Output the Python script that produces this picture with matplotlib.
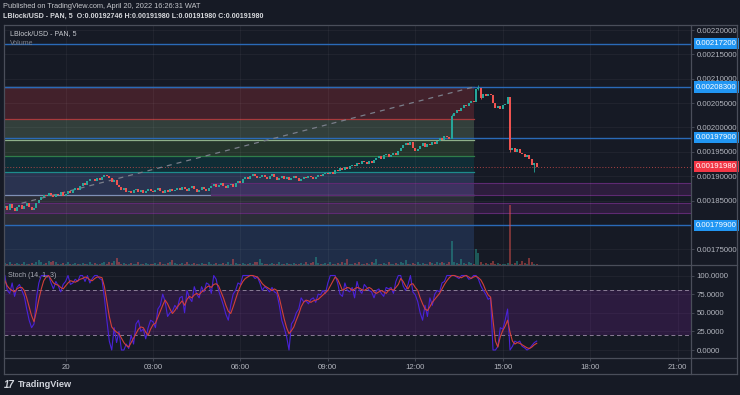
import numpy as np
import matplotlib
matplotlib.use('Agg')
import matplotlib.pyplot as plt
import matplotlib.transforms as mtransforms
from matplotlib.patches import Rectangle
from matplotlib.lines import Line2D

plt.rcParams['font.family'] = ['Liberation Sans', 'DejaVu Sans']

# 5 minute candles, prices in units of 1e-6 USD (1838 -> 0.001838)
first_open_e6 = 1834
closes_e6 = [
    1838, 1830, 1842, 1835, 1828, 1836, 1840, 1832, 1838, 1844, 1836, 1830, 1834,
    1845, 1852, 1858, 1862,
    1860, 1866, 1862, 1858, 1864, 1862, 1868, 1860, 1864, 1870, 1866, 1872,
    1876, 1872, 1880, 1886, 1882, 1890, 1894,
    1894, 1890, 1896, 1892, 1898, 1902,
    1900, 1896, 1888, 1892, 1882, 1878, 1872, 1876, 1868,
    1870, 1866, 1872, 1874, 1868, 1872, 1866, 1870, 1874, 1870,
    1868, 1872, 1876, 1870, 1866, 1872, 1868, 1874, 1870, 1872,
    1876, 1872, 1878, 1874, 1870, 1876, 1880, 1874, 1868, 1872, 1878, 1874, 1870, 1876,
    1880, 1884, 1878, 1882, 1886, 1880, 1876, 1882, 1884, 1878, 1886,
    1890, 1886, 1894, 1898, 1894, 1900, 1904,
    1900, 1896, 1898, 1902, 1898, 1894, 1900, 1904, 1898, 1892, 1896, 1900, 1894,
    1898, 1892, 1896, 1900, 1896, 1890, 1894, 1898, 1896,
    1900, 1898, 1894, 1898, 1902, 1900, 1904, 1906, 1904,
    1908, 1904, 1912, 1910, 1916, 1912, 1918, 1914, 1920,
    1924, 1920, 1928, 1926, 1932,
    1930, 1926, 1932, 1928, 1934, 1938,
    1942, 1936, 1944, 1946, 1940, 1944,
    1948, 1944, 1952, 1958, 1964, 1968,
    1964, 1970, 1958, 1952, 1956,
    1962, 1968, 1960, 1966, 1964, 1970, 1966, 1972,
    1978, 1974, 1982, 1980, 1976,
    2024,
    2030, 2036, 2034, 2040, 2046, 2044, 2050, 2054,
    2052, 2078, 2082,
    2060,
    2068, 2064, 2068, 2066,
    2050, 2040,
    2044, 2038, 2046,
    2048, 2062,
    1954,
    1958, 1950, 1956, 1948,
    1946, 1940, 1944, 1936,
    1922, 1927.46, 1919.8,
]
# a few visible wicks: candle index -> (high, low)
wicks_e6 = {184: (2027, 1978), 195: (2087, 2076), 196: (2082, 2058), 208: (2062, 1950), 218: (1928, 1908)}

volumes = [
    4, 3, 5, 2, 3, 4, 2, 3, 5, 3,
    2, 4, 3, 5, 9, 6, 3, 4, 7, 5,
    8, 6, 3, 2, 4, 3, 5, 2, 3, 4,
    3, 2, 4, 3, 2, 5, 3, 4, 2, 3,
    4, 5, 3, 6, 4, 7, 13, 5, 3, 4,
    2, 3, 4, 2, 3, 5, 2, 3, 4, 2,
    3, 2, 4, 3, 5, 2, 3, 4, 6, 9,
    4, 3, 2, 4, 3, 5, 2, 3, 4, 2,
    3, 4, 2, 3, 5, 3, 2, 4, 3, 2,
    4, 3, 5, 2, 10, 4, 3, 2, 4, 3,
    2, 4, 3, 5, 6, 10, 4, 3, 2, 3,
    4, 2, 3, 5, 3, 2, 4, 3, 2, 4,
    3, 2, 4, 3, 5, 3, 4, 6, 14, 4,
    3, 2, 4, 3, 5, 3, 2, 4, 3, 5,
    4, 10, 3, 2, 4, 3, 5, 3, 2, 4,
    3, 5, 4, 10, 3, 2, 4, 3, 5, 3,
    2, 4, 3, 5, 4, 9, 3, 2, 4, 3,
    5, 3, 4, 2, 3, 5, 4, 3, 6, 4,
    5, 4, 3, 6, 40, 5, 4, 3, 10, 4,
    3, 5, 4, 3, 27, 20, 6, 3, 4, 3,
    4, 8, 3, 4, 3, 2, 3, 4, 100, 3,
    4, 8, 3, 7, 4, 3, 12, 6, 3, 2,
]

stoch_k = [
    100, 80, 76, 90, 72, 84, 88, 80, 72, 55, 40, 30, 35,
    70, 90, 100, 100,
    100, 100, 90, 82, 92, 86, 78, 88, 92,
    100, 88, 90, 95, 92, 100,
    100, 92, 100, 90, 96, 100, 100, 96, 94,
    70, 40, 12, 0, 30, 10, 25, 0, 0, 8, 2,
    20, 8, 35, 40, 25, 28, 15, 30, 40, 38, 30,
    55, 60, 75, 65, 45, 50, 52,
    60, 55, 70, 72, 50, 80, 70, 65, 85, 75, 70,
    85, 78, 90, 88, 76, 100, 95, 80,
    70, 60, 48, 40, 60, 75, 80, 90, 88, 100, 100, 100,
    100, 100, 96, 98, 90, 80, 85, 82, 78, 84, 78, 76,
    60, 40, 30, 18, 0, 35, 40, 50, 55, 70, 65, 66,
    62, 68, 70, 64, 75, 74, 80, 76, 90, 100, 100,
    100, 90, 75, 72,
    90, 80, 78, 84, 70, 92, 80, 76, 88, 84, 80,
    78, 70, 80, 82, 76, 72, 84, 82,
    84, 76, 92, 100, 100, 86,
    80, 88, 100, 78, 74, 65, 50,
    40, 60, 45, 70, 60, 75, 80, 78, 90,
    92, 100, 100, 100, 100, 98,
    96, 100, 100, 100, 95, 96, 100, 100, 95, 86,
    80, 75, 68, 70, 0, 0, 5,
    30, 28, 40, 55, 0, 5, 12,
    10, 12, 5, 3, 0, 2, 6, 10, 12,
]
stoch_d = [
    93, 86, 82, 80, 78, 82, 84, 84, 80, 70, 58, 46, 38,
    52, 68, 82, 93,
    98, 100, 95, 90, 88, 87, 84, 82, 86,
    90, 93, 92, 91, 93, 95,
    96, 98, 97, 94, 93, 96, 98, 98, 97,
    85, 65, 45, 31, 27, 24, 22, 16, 10, 6, 4,
    10, 16, 22, 28, 31, 30, 24, 20, 28, 34, 36,
    44, 52, 60, 67, 62, 55, 49,
    53, 58, 62, 66, 60, 68, 72, 70, 74, 76, 74,
    78, 80, 84, 86, 84, 88, 89, 86,
    78, 70, 60, 52, 49, 58, 68, 78, 86, 92, 96, 98,
    100, 100, 99, 98, 94, 89, 86, 84, 82, 80, 82, 80,
    70, 56, 42, 30, 22, 26, 31, 40, 48, 58, 64, 67,
    66, 64, 66, 67, 68, 71, 74, 77, 80, 86, 92,
    98, 95, 88, 80,
    82, 84, 83, 80, 82, 84, 83, 81, 80, 82, 84,
    82, 78, 76, 78, 80, 78, 76, 80,
    82, 80, 84, 88, 96, 92,
    86, 82, 88, 89, 84, 80, 70,
    62, 55, 53, 58, 64, 68, 72, 76, 82,
    88, 93, 97, 100, 100, 99,
    98, 97, 99, 100, 98, 96, 98, 99, 97, 94,
    88, 80, 74, 71, 40, 12, 4,
    18, 26, 32, 40, 24, 12, 8,
    10, 9, 7, 5, 3, 2, 4, 7, 9,
]

price_ticks = [0.00175, 0.00185, 0.0019, 0.00195, 0.0020, 0.00205, 0.0021, 0.00215, 0.0022]
marked_levels = [0.002172, 0.002083, 0.001979, 0.001799]
last_price = 0.0019198
time_ticks = [0, 3, 6, 9, 12, 15, 18, 21]
time_labels = ['20', '03:00', '06:00', '09:00', '12:00', '15:00', '18:00', '21:00']
stoch_ticks = [0, 25, 50, 75, 100]

# zones drawn on the chart (price e6): low, high, fill colour
zone_lows = [1700, 1799, 1861, 1908, 1941, 1977, 2017]
zone_highs = [1799, 1861, 1908, 1941, 1977, 2017, 2083]
zone_fills = ['#1f2d48', '#2b2d37', '#2a3350', '#102d36', '#25352c', '#323f3b', '#42212b']
zone_end_hour = 14.0
purple_bands = [(1824, 1845, -5.0), (1861, 1886, 5.0)]  # low, high, start hour
trend_start = (-1.51, 1844.5)
trend_end = (14.0, 2083)

# ---------- derived series ----------
n = len(closes_e6)
last_hour = 16 + 10 / 60
hours = last_hour - (n - 1 - np.arange(n)) / 12.0
closes = np.array(closes_e6, dtype=float) * 1e-6
opens = np.concatenate([[first_open_e6 * 1e-6], closes[:-1]])
up = closes >= opens

BG = '#161a25'
GREEN = '#26a69a'
RED = '#ef5350'
TXT = '#b2b5be'
LINE_BLUE = '#2a6ab8'
FRAME = '#4a4e5a'

fig = plt.figure(figsize=(7.4, 3.95), dpi=100)
fig.patch.set_facecolor(BG)

def fbox(x0, y0, x1, y1):
    return [x0 / 740, 1 - y1 / 395, (x1 - x0) / 740, (y1 - y0) / 395]

ax = fig.add_axes(fbox(3.5, 24.5, 691, 265.3))
axs = fig.add_axes(fbox(3.5, 265.3, 691, 357.7), sharex=ax)
for a in (ax, axs):
    a.set_facecolor(BG)
    for s in a.spines.values():
        s.set_visible(False)

xmin, xmax = -2.13, 21.46
ax.set_xlim(xmin, xmax)
ax.set_ylim(0.00171716, 0.0022113)

# zones
for lo, hi, fc in zip(zone_lows, zone_highs, zone_fills):
    ax.add_patch(Rectangle((xmin, lo * 1e-6), zone_end_hour - xmin, (hi - lo) * 1e-6,
                           fc=fc, ec='none', zorder=1))
zone_edges = [(1861, '#7f8fb5'), (1908, '#1d8c8c'), (1941, '#2f7d4a'), (1975, '#8fb08a'),
              (2017, '#a83a3c'), (2083, '#8a8fa0')]
for lvl, col in zone_edges:
    ax.plot([xmin, zone_end_hour], [lvl * 1e-6] * 2, color=col, lw=0.9, zorder=2)

for lo, hi, start in purple_bands:
    ax.add_patch(Rectangle((max(start, xmin), lo * 1e-6), xmax - max(start, xmin), (hi - lo) * 1e-6,
                           fc='#8e2ea2', alpha=0.2, ec='none', zorder=2))
    for lvl in (lo, hi):
        ax.plot([max(start, xmin), xmax], [lvl * 1e-6] * 2, color='#5e2a72', lw=0.8, zorder=2)

# grid
for t in time_ticks:
    ax.axvline(t, color='#ffffff', alpha=0.05, lw=0.6, zorder=2.5)
    axs.axvline(t, color='#ffffff', alpha=0.05, lw=0.6, zorder=0.5)
for p in price_ticks + [0.0018]:
    ax.axhline(p, color='#ffffff', alpha=0.05, lw=0.6, zorder=2.5)
for s in stoch_ticks:
    axs.axhline(s, color='#ffffff', alpha=0.05, lw=0.6, zorder=0.5)

# marked levels and trend line
for lvl in marked_levels:
    ax.axhline(lvl, color=LINE_BLUE, lw=1.0, zorder=3)
ax.axhline(last_price, color=RED, lw=0.7, ls=(0, (1, 2)), alpha=0.7, zorder=3)
ax.plot([trend_start[0], trend_end[0]], [trend_start[1] * 1e-6, trend_end[1] * 1e-6],
        color='#7a7e8a', lw=0.9, ls=(0, (4, 4)), zorder=3)

# volume
axv = ax.twinx()
axv.set_ylim(0, 402)
axv.axis('off')
vol_colors = [(0.15, 0.65, 0.6, 0.45) if u else (0.94, 0.33, 0.31, 0.45) for u in up]
axv.bar(hours, volumes, width=0.065, color=vol_colors, zorder=2)

# candles
body_lo = np.minimum(opens, closes)
body_h = np.maximum(np.abs(closes - opens), 0.6e-6)
cols = [GREEN if u else RED for u in up]
for i, (hi, lo) in wicks_e6.items():
    ax.vlines(hours[i], lo * 1e-6, hi * 1e-6, color=cols[i], lw=0.6, zorder=4)
ax.bar(hours, body_h, bottom=body_lo, width=0.072, color=cols, zorder=5)

# price axis
ax.yaxis.tick_right()
ax.set_yticks(price_ticks)
ax.set_yticklabels([f'{p:.8f}' for p in price_ticks])
ax.tick_params(axis='y', colors=FRAME, labelcolor=TXT, labelsize=5.6, length=2.5, pad=1.5, width=0.6)
ax.tick_params(axis='x', bottom=False, labelbottom=False)
tr = mtransforms.blended_transform_factory(ax.transAxes, ax.transData)
for lvl in marked_levels:
    ax.text(1.0075, lvl, f'{lvl:.8f}', transform=tr, ha='left', va='center', fontsize=5.6,
            color='white', bbox=dict(boxstyle='square,pad=0.28', fc='#2196f3', ec='none'),
            zorder=10, clip_on=False)
ax.text(1.0075, last_price, f'{last_price:.8f}', transform=tr, ha='left', va='center', fontsize=5.6,
        color='white', bbox=dict(boxstyle='square,pad=0.28', fc='#f23645', ec='none'),
        zorder=10, clip_on=False)

# stochastic pane
axs.set_ylim(-10.3, 113.7)
axs.add_patch(Rectangle((xmin, 20), xmax - xmin, 60, fc='#7e1fa0', alpha=0.22, ec='none', zorder=0.6))
for lvl in (20, 80):
    axs.axhline(lvl, color='#8a7d96', lw=0.7, ls=(0, (4, 3)), zorder=1)
axs.plot(hours, stoch_k, color='#4a22d8', lw=0.8, zorder=2)
axs.plot(hours, stoch_d, color='#d2403a', lw=0.8, zorder=3)
axs.yaxis.tick_right()
axs.set_yticks(stoch_ticks)
axs.set_yticklabels([f'{s:.4f}' for s in stoch_ticks])
axs.tick_params(axis='y', colors=FRAME, labelcolor=TXT, labelsize=5.6, length=2.5, pad=1.5, width=0.6)
axs.set_xticks(time_ticks)
axs.set_xticklabels(time_labels)
axs.tick_params(axis='x', colors=FRAME, labelcolor=TXT, labelsize=5.6, length=2, pad=2.5, width=0.6)
axs.set_xlim(xmin, xmax)

# frame lines in pixel coords
def fline(x0, y0, x1, y1, **kw):
    fig.add_artist(Line2D([x0 / 740, x1 / 740], [1 - y0 / 395, 1 - y1 / 395], **kw))

fline(3.5, 24.5, 737, 24.5, color=FRAME, lw=0.9)
fline(3.5, 374, 737, 374, color=FRAME, lw=0.9)
fline(3.5, 24.5, 3.5, 374, color=FRAME, lw=0.9)
fline(737, 24.5, 737, 374, color=FRAME, lw=0.9)
fline(691, 24.5, 691, 374, color=FRAME, lw=0.9)
fline(3.5, 265.3, 737, 265.3, color=FRAME, lw=0.9)
fline(3.5, 357.7, 737, 357.7, color=FRAME, lw=0.9)

# texts
fig.text(3 / 740, 1 - 7 / 395, 'Published on TradingView.com, April 20, 2022 16:26:31 WAT',
         color='#c5c7cc', fontsize=5.3, va='center', ha='left')
fig.text(3 / 740, 1 - 16.5 / 395,
         'LBlock/USD - PAN, 5  O:0.00192746 H:0.00191980 L:0.00191980 C:0.00191980',
         color='#d6d8dc', fontsize=5.1, va='center', ha='left', fontweight='bold')
fig.text(10 / 740, 1 - 34 / 395, 'LBlock/USD - PAN, 5', color='#c8cad0', fontsize=5.0, va='center')
fig.text(10 / 740, 1 - 43.5 / 395, 'Volume', color='#7c808b', fontsize=5.0, va='center')
fig.text(8 / 740, 1 - 275.5 / 395, 'Stoch (14, 1, 3)', color='#a9acb5', fontsize=5.0, va='center')
fig.text(4 / 740, 1 - 384.5 / 395, '17', color='#d1d4dc', fontsize=7, va='center',
         fontweight='bold', fontstyle='italic')
fig.text(18 / 740, 1 - 384.5 / 395, 'TradingView', color='#d1d4dc', fontsize=6.6, va='center',
         fontweight='bold')

fig.savefig('out.png', dpi=100, facecolor=BG)
